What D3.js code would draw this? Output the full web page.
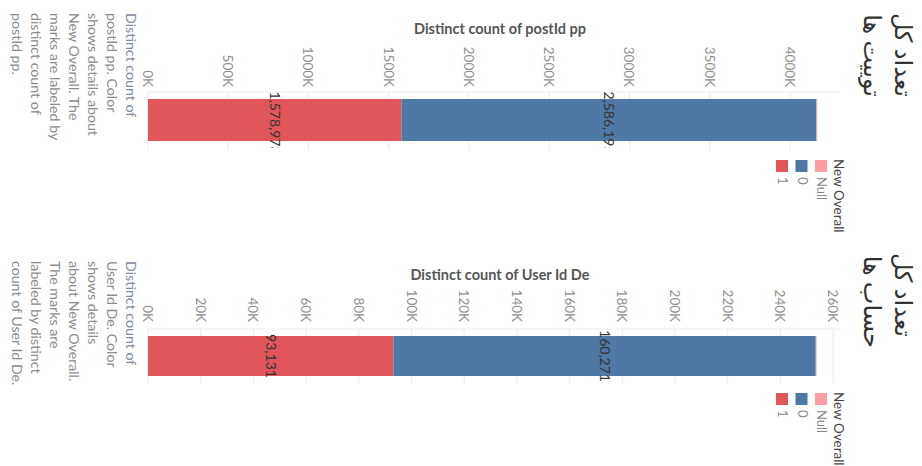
<!DOCTYPE html>
<html><head><meta charset="utf-8">
<script src="https://cdn.jsdelivr.net/npm/d3@7"></script>
<style>body{margin:0;background:#fff;} svg{display:block;}</style>
</head><body>
<svg id="c" width="922" height="466"></svg>
<script>
// ---- data ----
const categories = ["1", "0", "Null"];            // New Overall
const postValues = [1578973, 2586195, 5000];      // Distinct count of postId pp
const userValues = [93131, 160271, 300];          // Distinct count of User Id De
const postLabels = ["1,578,973", "2,586,195", ""];
const userLabels = ["93,131", "160,271", ""];
const postTicks = [0, 500000, 1000000, 1500000, 2000000, 2500000, 3000000, 3500000, 4000000];
const userTicks = [0, 20000, 40000, 60000, 80000, 100000, 120000, 140000, 160000, 180000, 200000, 220000, 240000, 260000];
const legendOrder = ["Null", "0", "1"];
const colors = {"1": "#E15759", "0": "#4E79A7", "Null": "#FF9DA7"};
const postTitle = "Distinct count of postId pp";
const userTitle = "Distinct count of User Id De";
const postFaTitle = ["تعداد کل", "توییت ها"];
const userFaTitle = ["تعداد کل", "حساب ها"];
const postDesc = ["Distinct count of", "postId pp. Color", "shows details about", "New Overall. The", "marks are labeled by", "distinct count of", "postId pp."];
const userDesc = ["Distinct count of", "User Id De. Color", "shows details", "about New Overall.", "The marks are", "labeled by distinct", "count of User Id De."];

const svg = d3.select("#c");
const font = "Lato, 'Open Sans', sans-serif";

function panel(cfg, idx) {
  const g = svg.append("g");
  const x = d3.scaleLinear().domain([0, cfg.max]).range([148, 840]);
  // axis title
  g.append("text").attr("x", 500).attr("y", cfg.titleY).attr("text-anchor", "middle")
    .attr("font-family", font).attr("font-weight", "bold").attr("font-size", 14.5).attr("fill", "#555")
    .text(cfg.title);
  // grid
  g.append("line").attr("x1", 148).attr("x2", 840).attr("y1", cfg.gridTop).attr("y2", cfg.gridTop)
    .attr("stroke", "#eeeeee");
  g.selectAll("line.grid").data(cfg.ticks).join("line").attr("class", "grid")
    .attr("x1", d => x(d)).attr("x2", d => x(d)).attr("y1", cfg.gridTop).attr("y2", cfg.gridBot)
    .attr("stroke", "#ececec");
  // axis tick labels (rotated)
  const fmt = d => (d / 1000) + "K";
  g.selectAll("text.tick").data(cfg.ticks).join("text").attr("class", "tick")
    .attr("transform", d => `translate(${x(d) - 5},${cfg.tickEnd}) rotate(90)`)
    .attr("text-anchor", "end").attr("font-family", font).attr("font-size", 13.5).attr("fill", "#8f8f8f")
    .text(fmt);
  // stacked bars
  let acc = 0;
  const segs = cfg.values.map((v, i) => { const s = {cat: categories[i], x0: acc, x1: acc + v, label: cfg.labels[i]}; acc += v; return s; });
  g.selectAll("rect.bar").data(segs).join("rect").attr("class", "bar")
    .attr("x", d => x(d.x0)).attr("width", d => Math.max(0, x(d.x1) - x(d.x0)))
    .attr("y", cfg.barTop).attr("height", cfg.barH).attr("fill", d => colors[d.cat]);
  // clip for labels
  const cid = "clip" + idx;
  svg.append("clipPath").attr("id", cid).append("rect")
    .attr("x", 148).attr("y", cfg.clipTop).attr("width", 700).attr("height", cfg.clipBot - cfg.clipTop);
  g.append("g").attr("clip-path", `url(#${cid})`).selectAll("text.lbl").data(segs.filter(d => d.label)).join("text")
    .attr("transform", d => `translate(${(x(d.x0) + x(d.x1)) / 2 - 5},${cfg.barTop + cfg.barH / 2 + cfg.lblShift}) rotate(90)`)
    .attr("text-anchor", "middle").attr("font-family", font).attr("font-size", 14).attr("fill", "#333")
    .text(d => d.label);
  // description (rotated lines)
  g.selectAll("text.desc").data(cfg.desc).join("text").attr("class", "desc")
    .attr("transform", (d, i) => `translate(${126 - i * 19},${cfg.descTop}) rotate(90)`)
    .attr("font-family", font).attr("font-size", 14.2).attr("fill", (d, i) => i === 0 ? "#7f8aa0" : "#8c8c8c")
    .text(d => d);
  // Persian title
  g.selectAll("text.fa").data(cfg.fa).join("text").attr("class", "fa")
    .attr("transform", (d, i) => `translate(${895 - i * 31},${cfg.faEnd[i]}) rotate(90)`)
    .attr("text-anchor", "end").attr("font-family", "'Noto Sans', 'DejaVu Sans', sans-serif").attr("font-size", 24).attr("fill", "#333")
    .text(d => d);
  // legend
  const lg = g.append("g");
  lg.append("text").attr("transform", `translate(834,${cfg.legTop}) rotate(90)`)
    .attr("font-family", font).attr("font-size", 13.5).attr("fill", "#444").text("New Overall");
  legendOrder.forEach((c, i) => {
    const cx = 821 - i * 19.5;
    lg.append("rect").attr("x", cx - 6).attr("y", cfg.legTop + 1).attr("width", 12).attr("height", 12).attr("fill", colors[c]);
    lg.append("text").attr("transform", `translate(${cx - 4},${cfg.legTop + 18}) rotate(90)`)
      .attr("font-family", font).attr("font-size", 13).attr("fill", "#888").text(c);
  });
}

panel({max: 4312000, ticks: postTicks, values: postValues, labels: postLabels, title: postTitle,
  titleY: 34, gridTop: 92, gridBot: 150, tickEnd: 87, barTop: 99, barH: 42, clipTop: 91, clipBot: 148, lblShift: 3,
  desc: postDesc, descTop: 13, fa: postFaTitle, faEnd: [97, 97], legTop: 159}, 0);
panel({max: 262600, ticks: userTicks, values: userValues, labels: userLabels, title: userTitle,
  titleY: 280, gridTop: 329, gridBot: 383, tickEnd: 322, barTop: 336, barH: 40, clipTop: 329, clipBot: 383, lblShift: 0,
  desc: userDesc, descTop: 261, fa: userFaTitle, faEnd: [337, 348], legTop: 392}, 1);
</script>
</body></html>
